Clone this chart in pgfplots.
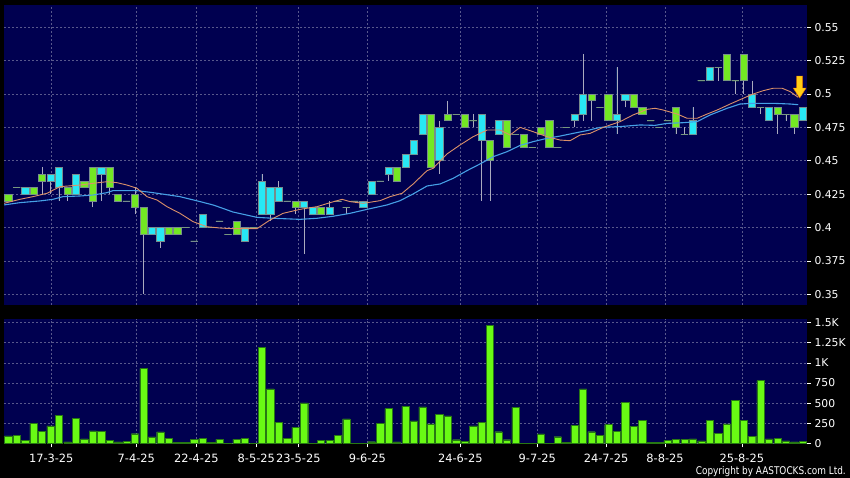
\documentclass[border=0pt]{standalone}
\usepackage{fontspec}
\setmainfont{DejaVu Sans}
\newfontfamily\copyfont[FakeStretch=0.84]{DejaVu Sans}
\usepackage{pgfplots}
\pgfplotsset{compat=1.18}
\usepackage{pgfplotstable}
\usepgfplotslibrary{statistics}

\definecolor{navy}{RGB}{0,0,80}
\definecolor{gridc}{RGB}{88,88,140}
\definecolor{upc}{RGB}{40,232,245}
\definecolor{dnc}{RGB}{115,232,35}
\definecolor{edgec}{RGB}{120,140,140}
\definecolor{wickc}{RGB}{170,170,190}
\definecolor{volc}{RGB}{105,250,20}
\definecolor{voledge}{RGB}{40,120,20}
\definecolor{maorange}{RGB}{220,145,105}
\definecolor{mablue}{RGB}{70,160,230}
\definecolor{arrowc}{RGB}{255,205,20}

% down arrow marker, tip at the data point
\pgfdeclareplotmark{downarrow}{%
  \pgfpathmoveto{\pgfpoint{0pt}{0pt}}%
  \pgfpathlineto{\pgfpoint{6.5pt}{10pt}}%
  \pgfpathlineto{\pgfpoint{3pt}{10pt}}%
  \pgfpathlineto{\pgfpoint{3pt}{22pt}}%
  \pgfpathlineto{\pgfpoint{-3pt}{22pt}}%
  \pgfpathlineto{\pgfpoint{-3pt}{10pt}}%
  \pgfpathlineto{\pgfpoint{-6.5pt}{10pt}}%
  \pgfpathclose
  \pgfusepathqfillstroke}

% daily candles: body bottom/top, low, high, colour
\pgfplotstableread{
i lo hi low high c
0 0.420 0.425 0.420 0.425 dnc
1 0.430 0.430 0.430 0.430 dnc
2 0.425 0.430 0.425 0.430 upc
3 0.425 0.430 0.425 0.430 dnc
4 0.435 0.440 0.425 0.445 dnc
5 0.435 0.440 0.425 0.440 upc
6 0.430 0.445 0.420 0.445 upc
7 0.425 0.430 0.420 0.430 dnc
8 0.425 0.440 0.425 0.440 upc
9 0.430 0.435 0.430 0.435 dnc
10 0.420 0.445 0.415 0.445 dnc
11 0.440 0.445 0.420 0.445 upc
12 0.430 0.445 0.425 0.445 dnc
13 0.420 0.425 0.420 0.425 dnc
14 0.420 0.420 0.420 0.420 dnc
15 0.415 0.425 0.410 0.430 dnc
16 0.395 0.415 0.350 0.415 dnc
17 0.395 0.400 0.395 0.400 upc
18 0.390 0.400 0.385 0.400 upc
19 0.395 0.400 0.395 0.400 dnc
20 0.395 0.400 0.395 0.400 dnc
21 0.400 0.400 0.400 0.400 dnc
22 0.390 0.390 0.390 0.390 dnc
23 0.400 0.410 0.400 0.410 upc
24 0.400 0.400 0.400 0.400 dnc
25 0.405 0.405 0.405 0.405 dnc
26 0.395 0.395 0.395 0.395 dnc
27 0.395 0.405 0.395 0.405 dnc
28 0.390 0.400 0.390 0.400 upc
29 0.400 0.400 0.400 0.400 dnc
30 0.410 0.435 0.410 0.440 upc
31 0.410 0.430 0.405 0.430 upc
32 0.420 0.430 0.420 0.435 upc
33 0.420 0.420 0.420 0.420 dnc
34 0.415 0.420 0.410 0.420 dnc
35 0.415 0.420 0.380 0.420 upc
36 0.410 0.415 0.410 0.415 upc
37 0.410 0.415 0.410 0.415 dnc
38 0.410 0.415 0.410 0.420 upc
39 0.420 0.420 0.420 0.420 dnc
40 0.415 0.415 0.410 0.415 dnc
41 0.420 0.420 0.420 0.420 dnc
42 0.415 0.420 0.415 0.420 upc
43 0.425 0.435 0.425 0.435 upc
44 0.435 0.435 0.435 0.435 dnc
45 0.440 0.445 0.435 0.445 upc
46 0.435 0.445 0.435 0.445 dnc
47 0.445 0.455 0.445 0.455 upc
48 0.455 0.465 0.455 0.465 upc
49 0.470 0.485 0.470 0.485 upc
50 0.445 0.485 0.445 0.485 dnc
51 0.450 0.475 0.440 0.480 upc
52 0.480 0.485 0.480 0.495 dnc
53 0.485 0.485 0.485 0.485 dnc
54 0.475 0.485 0.475 0.485 dnc
55 0.480 0.480 0.475 0.485 dnc
56 0.465 0.485 0.420 0.485 upc
57 0.450 0.465 0.420 0.465 dnc
58 0.470 0.480 0.470 0.480 upc
59 0.460 0.480 0.460 0.480 dnc
60 0.470 0.470 0.470 0.470 dnc
61 0.460 0.470 0.460 0.470 dnc
62 0.460 0.460 0.460 0.460 dnc
63 0.470 0.475 0.470 0.475 dnc
64 0.460 0.480 0.460 0.480 dnc
65 0.460 0.460 0.460 0.460 dnc
66 0.475 0.475 0.475 0.475 dnc
67 0.480 0.485 0.475 0.485 upc
68 0.485 0.500 0.480 0.530 upc
69 0.495 0.500 0.480 0.500 dnc
70 0.490 0.490 0.490 0.490 dnc
71 0.480 0.500 0.480 0.500 dnc
72 0.480 0.485 0.470 0.520 upc
73 0.495 0.500 0.490 0.500 upc
74 0.490 0.500 0.490 0.500 dnc
75 0.485 0.490 0.485 0.490 dnc
76 0.480 0.480 0.480 0.480 dnc
77 0.475 0.475 0.475 0.475 dnc
78 0.480 0.480 0.480 0.480 dnc
79 0.475 0.490 0.470 0.490 dnc
80 0.470 0.470 0.470 0.475 dnc
81 0.470 0.480 0.470 0.490 upc
82 0.510 0.510 0.510 0.510 dnc
83 0.510 0.520 0.510 0.520 upc
84 0.520 0.520 0.510 0.520 dnc
85 0.510 0.530 0.510 0.530 dnc
86 0.510 0.510 0.500 0.510 dnc
87 0.510 0.530 0.500 0.530 dnc
88 0.490 0.500 0.490 0.510 upc
89 0.490 0.490 0.485 0.490 dnc
90 0.480 0.490 0.480 0.490 upc
91 0.485 0.490 0.470 0.490 dnc
92 0.485 0.485 0.480 0.485 dnc
93 0.475 0.485 0.470 0.485 dnc
94 0.480 0.490 0.480 0.490 upc
}\candles

% volume in thousands
\pgfplotstableread{
i v
0 93
1 105
2 35
3 254
4 147
5 217
6 350
7 19
8 308
9 56
10 155
11 151
12 35
13 19
14 27
15 121
16 932
17 81
18 143
19 64
20 15
21 15
22 52
23 68
24 15
25 52
26 5
27 52
28 68
29 3
30 1188
31 676
32 258
33 60
34 201
35 502
36 3
37 43
38 43
39 101
40 304
41 2
42 5
43 22
44 254
45 432
46 20
47 461
48 279
49 453
50 242
51 357
52 341
53 47
54 27
55 217
56 258
57 1466
58 146
59 47
60 449
61 2
62 2
63 118
64 2
65 84
66 15
67 221
68 676
69 146
70 101
71 233
72 151
73 511
74 213
75 288
76 15
77 15
78 35
79 52
80 52
81 56
82 31
83 288
84 126
85 242
86 531
87 291
88 89
89 779
90 56
91 60
92 31
93 19
94 27
}\volumes

% short moving average (orange)
\pgfplotstableread{
x v
-0.51 0.4181
1.38 0.4211
2.92 0.4231
4.58 0.4256
6.12 0.4306
8.48 0.4318
10.02 0.4331
11.68 0.4343
12.86 0.4336
14.05 0.4318
15.23 0.4294
16.41 0.4231
17.60 0.4206
18.78 0.4156
20.32 0.4106
21.86 0.4044
23.51 0.4006
25.05 0.3996
26.59 0.3991
29.43 0.3991
30.97 0.4056
32.51 0.4106
34.52 0.4136
36.53 0.4156
38.07 0.4186
39.49 0.4211
40.43 0.4194
41.98 0.4181
43.99 0.4201
45.17 0.4231
46.59 0.4256
47.89 0.4325
49.55 0.4426
50.26 0.4443
51.91 0.4551
53.45 0.4618
54.99 0.4680
56.65 0.4730
58.18 0.4730
59.37 0.4693
60.56 0.4750
62.09 0.4718
63.75 0.4680
65.29 0.4655
66.47 0.4650
67.65 0.4693
68.84 0.4705
70.38 0.4750
72.39 0.4793
73.92 0.4843
75.58 0.4885
76.53 0.4893
77.48 0.4880
79.14 0.4850
80.32 0.4818
81.50 0.4818
82.69 0.4850
83.87 0.4880
85.41 0.4925
86.95 0.4968
88.14 0.5000
89.32 0.5025
90.50 0.5043
91.56 0.5043
92.51 0.5018
93.46 0.4975
}\maShort

% long moving average (blue)
\pgfplotstableread{
x v
-0.51 0.4169
1.38 0.4186
3.75 0.4199
5.29 0.4211
6.47 0.4231
8.48 0.4236
10.02 0.4243
11.68 0.4261
12.39 0.4276
15.23 0.4276
17.12 0.4261
20.32 0.4231
22.69 0.4194
24.22 0.4169
25.05 0.4151
26.59 0.4116
29.43 0.4076
31.33 0.4069
34.52 0.4061
36.53 0.4069
38.42 0.4084
40.43 0.4106
42.45 0.4136
44.82 0.4169
46.36 0.4201
47.89 0.4251
49.55 0.4311
51.09 0.4326
52.63 0.4368
54.28 0.4426
55.82 0.4476
57.36 0.4530
59.02 0.4568
60.56 0.4615
62.09 0.4643
63.75 0.4668
65.29 0.4685
66.83 0.4705
68.48 0.4726
70.02 0.4750
72.39 0.4756
74.76 0.4768
76.53 0.4765
77.95 0.4780
79.84 0.4785
81.50 0.4793
83.04 0.4843
85.05 0.4893
86.59 0.4925
88.14 0.4930
90.50 0.4930
92.51 0.4925
93.46 0.4920
}\maLong

\pgfplotsset{
  panel/.style={
    scale only axis, width=803pt,
    xmin=-0.5, xmax=94.5,
    axis background/.style={fill=navy},
    axis line style={draw=none},
    grid=major,
    major grid style={gridc, dash pattern=on 2pt off 2pt, line width=0.5pt},
    xtick={5.09,15.15,22.25,29.35,34.32,42.49,53.49,62.60,70.73,77.71,86.79},
    tick align=outside, major tick length=4pt,
    tick style={white, line width=0.6pt},
    ytick pos=right, yticklabel pos=right,
    xtick pos=left,
    tick label style={font=\fontsize{10.8}{12}\selectfont, text=white},
    /pgf/number format/assume math mode=true,
  },
}

\begin{document}
\begin{tikzpicture}
\fill[black] (0,0) rectangle (850pt,478pt);
\useasboundingbox (0,0) rectangle (850pt,478pt);

% price panel
\begin{axis}[panel, at={(4pt,173pt)}, anchor=south west, height=300pt,
    ymin=0.34195, ymax=0.56667,
    ytick={0.35,0.375,0.4,0.425,0.45,0.475,0.5,0.525,0.55},
    yticklabels={0.35,0.375,0.4,0.425,0.45,0.475,0.5,0.525,0.55},
    xticklabels={}, x tick style={draw=none},
    boxplot/draw direction=y,
    boxplot/every whisker/.style={draw=wickc, line width=0.6pt},
    boxplot/every median/.style={draw=none},
  ]
  \pgfplotsinvokeforeach{0,...,94}{
    \pgfplotstablegetelem{#1}{lo}\of\candles \let\cLo\pgfplotsretval
    \pgfplotstablegetelem{#1}{hi}\of\candles \let\cHi\pgfplotsretval
    \pgfplotstablegetelem{#1}{low}\of\candles \let\cL\pgfplotsretval
    \pgfplotstablegetelem{#1}{high}\of\candles \let\cH\pgfplotsretval
    \pgfplotstablegetelem{#1}{c}\of\candles \let\cC\pgfplotsretval
    \edef\doplot{\noexpand\addplot[solid, draw=edgec, line width=0.5pt, fill=\cC,
      boxplot prepared={draw position=#1, box extend=0.86, whisker extend=0,
        lower whisker=\cL, lower quartile=\cLo, median=\cLo,
        upper quartile=\cHi, upper whisker=\cH}] coordinates {};}
    \doplot
  }
  \addplot[mablue, line width=1.1pt, mark=none] table[x=x, y=v] {\maLong};
  \addplot[maorange, line width=0.9pt, mark=none] table[x=x, y=v] {\maShort};
  \addplot[only marks, mark=downarrow,
    mark options={fill=arrowc, draw=orange!85!black, line width=0.4pt}]
    coordinates {(93.63,0.497)};
\end{axis}

% volume panel
\begin{axis}[panel, at={(4pt,34.5pt)}, anchor=south west, height=124.5pt,
    ymin=0, ymax=1543,
    ytick={0,250,500,750,1000,1250,1500},
    yticklabels={0,250,500,750,1K,1.25K,1.5K},
    xticklabels={17-3-25,7-4-25,22-4-25,8-5-25,23-5-25,9-6-25,24-6-25,9-7-25,24-7-25,8-8-25,25-8-25},
    xticklabel style={yshift=-3pt, font=\fontsize{11.4}{13}\selectfont},
  ]
  \addplot[ybar, bar width=0.86, bar shift=0pt, fill=volc, draw=voledge,
    line width=0.4pt] table[x=i, y=v] {\volumes};
\end{axis}

\node[anchor=south east, text=white, inner sep=0pt,
  font=\copyfont\fontsize{10.6}{12}\selectfont] at (846pt,1pt)
  {Copyright by AASTOCKS.com Ltd.};
\end{tikzpicture}
\end{document}
